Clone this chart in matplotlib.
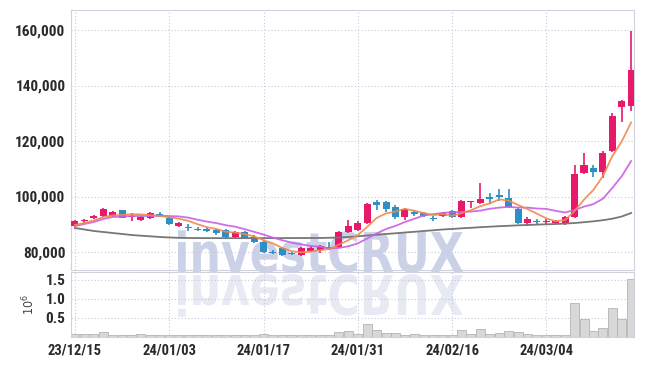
import matplotlib
matplotlib.use("Agg")
import matplotlib.pyplot as plt
import numpy as np
import pandas as pd
from matplotlib.textpath import TextPath
from matplotlib.patches import PathPatch
from matplotlib.font_manager import FontProperties
from matplotlib.transforms import Affine2D

# trading days shown on the chart
dates = [
    "2023-12-15", "2023-12-18", "2023-12-19", "2023-12-20", "2023-12-21",
    "2023-12-22", "2023-12-26", "2023-12-27", "2023-12-28", "2024-01-02",
    "2024-01-03", "2024-01-04", "2024-01-05", "2024-01-08", "2024-01-09",
    "2024-01-10", "2024-01-11", "2024-01-12", "2024-01-15", "2024-01-16",
    "2024-01-17", "2024-01-18", "2024-01-19", "2024-01-22", "2024-01-23",
    "2024-01-24", "2024-01-25", "2024-01-26", "2024-01-29", "2024-01-30",
    "2024-01-31", "2024-02-01", "2024-02-02", "2024-02-05", "2024-02-06",
    "2024-02-07", "2024-02-08", "2024-02-13", "2024-02-14", "2024-02-15",
    "2024-02-16", "2024-02-19", "2024-02-20", "2024-02-21", "2024-02-22",
    "2024-02-23", "2024-02-26", "2024-02-27", "2024-02-28", "2024-02-29",
    "2024-03-04", "2024-03-05", "2024-03-06", "2024-03-07", "2024-03-08",
    "2024-03-11", "2024-03-12", "2024-03-13", "2024-03-14", "2024-03-15",
]

opens = [
    89370, 91300, 92250, 92970, 92970, 95140, 92600, 91530, 92250, 93690,
    92250, 89370, 89010, 88290, 88290, 87930, 87930, 85410, 87210, 85410,
    83600, 80000, 81440, 79640, 78920, 80360, 80720, 81800, 81800, 87210,
    87930, 90450, 98020, 98020, 96220, 92610, 94420, 94050, 92250, 92970,
    94780, 92610, 98020, 97660, 99820, 100540, 99460, 95500, 90450, 91170,
    90810, 90450, 90090, 92610, 108470, 110270, 108830, 116400, 132260, 132620,
]
closes = [
    91170, 91700, 92970, 95500, 94420, 92250, 92970, 92610, 94050, 92970,
    90090, 90450, 88650, 87930, 87570, 86850, 85410, 87210, 85050, 83600,
    80000, 79640, 78920, 79280, 81440, 81440, 82160, 81080, 87210, 89370,
    90450, 97300, 96940, 95500, 92610, 95500, 93690, 92970, 91890, 94050,
    92610, 98380, 98380, 99100, 99100, 99820, 96220, 90450, 91890, 90810,
    91170, 91170, 92610, 108110, 111350, 108830, 115680, 129010, 134420, 145590,
]
highs = [
    91530, 91900, 93330, 95860, 94780, 95300, 94050, 92970, 94420, 94420,
    92610, 90810, 90090, 89010, 89010, 88290, 88290, 87570, 87570, 86130,
    83960, 80720, 81800, 79900, 81800, 82160, 82520, 83600, 87570, 91530,
    91170, 97660, 98740, 98380, 96940, 95860, 95140, 94420, 92970, 94420,
    95140, 98740, 98500, 104870, 101260, 102700, 102700, 95860, 92610, 91890,
    91890, 91530, 92970, 111350, 115680, 111350, 116400, 130100, 134780, 159650,
]
lows = [
    89010, 90450, 91890, 92610, 92610, 92100, 91170, 91170, 91890, 92610,
    89730, 89010, 87570, 87570, 87300, 86130, 85050, 85050, 84690, 83240,
    79640, 79280, 78560, 78920, 78560, 80000, 79640, 80720, 81440, 86850,
    87570, 90090, 95140, 94420, 91890, 91530, 92970, 92610, 91170, 92610,
    92250, 92250, 95860, 97300, 97300, 98380, 95860, 90090, 89370, 90090,
    90090, 90090, 89730, 92250, 108110, 107030, 106670, 116000, 126850, 130820,
]
# volume in millions of shares
volumes = [
    0.08, 0.08, 0.08, 0.13, 0.05, 0.05, 0.05, 0.07, 0.05, 0.05,
    0.05, 0.04, 0.04, 0.05, 0.04, 0.04, 0.05, 0.05, 0.05, 0.04,
    0.07, 0.04, 0.05, 0.04, 0.04, 0.04, 0.05, 0.04, 0.12, 0.15,
    0.07, 0.35, 0.18, 0.11, 0.11, 0.05, 0.07, 0.05, 0.05, 0.05,
    0.04, 0.18, 0.08, 0.20, 0.08, 0.11, 0.15, 0.13, 0.08, 0.06,
    0.05, 0.04, 0.05, 0.90, 0.46, 0.15, 0.23, 0.77, 0.48, 1.53,
]
# moving-average values before the window has filled
ma5_head = [89730, 90450, 91350, 92600]
ma10_head = [89370, 90090, 90810, 91890, 92610, 92800, 92970, 92970, 92970]
# long moving average (needs history outside the chart)
ma60 = [
    88650, 88110, 87570, 87210, 86850, 86490, 86130, 85870, 85660, 85410,
    85230, 85100, 85050, 85020, 85000, 85000, 84990, 84990, 84990, 85000,
    85000, 85000, 85010, 85020, 85030, 85040, 85060, 85120, 85230, 85410,
    85660, 85950, 86200, 86490, 86740, 87030, 87280, 87570, 87820, 88110,
    88290, 88540, 88720, 88940, 89120, 89300, 89440, 89620, 89730, 89870,
    89980, 90090, 90240, 90450, 90740, 91060, 91460, 92000, 92790, 94050,
]
price_ticks = [80000, 100000, 120000, 140000, 160000]
vol_ticks = [0.5, 1.0, 1.5]

RED = "#e8196b"
BLUE = "#2d8fc6"
ORANGE = "#ef8a50"
PURPLE = "#c95fe6"
GRAY = "#777777"
GRID = "#c6c9de"
SPINE = "#cfd2e0"

plt.rcParams["font.family"] = ["Roboto Condensed", "Liberation Sans Narrow", "DejaVu Sans"]
plt.rcParams["font.stretch"] = "condensed"

W, H = 645, 366
fig = plt.figure(figsize=(W / 100, H / 100), dpi=100)


def box(left, top, right, bottom):
  return [left / W, 1 - bottom / H, (right - left) / W, (bottom - top) / H]


# watermark and its reflection, in pixel coordinates
wm = fig.add_axes([0, 0, 1, 1], zorder=0)
wm.set_xlim(0, W)
wm.set_ylim(H, 0)
wm.axis("off")
tp = TextPath((0, 0), "investCRUX", size=1,
              prop=FontProperties(family="DejaVu Sans", weight="bold"))
ext = tp.get_extents()
sx = (463 - 178) / ext.width
sy = 40 / 0.73
wm.add_patch(PathPatch(tp, fc="#cbd1e7", ec="none",
                       transform=Affine2D().translate(-ext.x0, 0).scale(sx, -sy)
                       .translate(178, 272) + wm.transData))
wm.add_patch(PathPatch(tp, fc="#e7e9f3", ec="none",
                       transform=Affine2D().translate(-ext.x0, 0).scale(sx, sy)
                       .translate(178, 275) + wm.transData))

ax = fig.add_axes(box(71, 10, 634, 270), zorder=1)
vax = fig.add_axes(box(71, 272, 634, 337), zorder=1)
for a in (ax, vax):
  a.patch.set_alpha(0)
  for s in a.spines.values():
    s.set_color(SPINE)
    s.set_linewidth(0.8)
  a.grid(True, color=GRID, linestyle=(0, (1, 2)), linewidth=0.8)
  a.set_axisbelow(True)
  a.tick_params(length=0, labelsize=10.5, labelcolor="#2a2a2a")

x = np.arange(len(dates))
o = np.array(opens)
c = np.array(closes)
colors = np.where(c >= o, RED, BLUE)

ax.vlines(x, lows, highs, colors=colors, linewidth=1.2, zorder=2)
ax.bar(x, np.abs(c - o), bottom=np.minimum(o, c), width=0.75,
       color=colors, zorder=3)

ma5 = pd.Series(closes, dtype=float).rolling(5).mean().to_numpy()
ma5[:len(ma5_head)] = ma5_head
ma10 = pd.Series(closes, dtype=float).rolling(10).mean().to_numpy()
ma10[:len(ma10_head)] = ma10_head

ax.plot(x, ma60, color=GRAY, linewidth=1.3, zorder=4)
ax.plot(x, ma10, color=PURPLE, linewidth=1.3, alpha=0.9, zorder=4)
ax.plot(x, ma5, color=ORANGE, linewidth=1.3, alpha=0.9, zorder=5)

ax.set_xlim(-0.42, 59.3)
ax.set_ylim(73510, 167220)
ax.set_yticks(price_ticks)
ax.set_yticklabels([f"{v:,}" for v in price_ticks], fontweight="bold", fontsize=11)
tick_idx = list(range(0, len(dates), 10))
ax.set_xticks(tick_idx)
ax.tick_params(labelbottom=False, pad=4)

vax.bar(x, volumes, width=0.95, color="#d8d8d8", edgecolor="#b4b4b4",
        linewidth=0.6, zorder=2)
vax.set_xlim(-0.42, 59.3)
vax.set_ylim(0, 1.7)
vax.set_yticks(vol_ticks)
vax.set_yticklabels([f"{v:.1f}" for v in vol_ticks], fontweight="bold", fontsize=11)
tick_labels = [pd.Timestamp(dates[i]).strftime("%y/%m/%d") for i in tick_idx]
vax.set_xticks(tick_idx)
vax.set_xticklabels(tick_labels, fontweight="bold")
vax.tick_params(axis="y", pad=4)
vax.tick_params(axis="x", pad=5)
vax.set_ylabel(r"$10^6$", fontsize=9, color="#444444", family="DejaVu Sans")
vax.yaxis.set_label_coords(-0.059, 0.5)

fig.savefig("out.png", dpi=100, facecolor="white")
